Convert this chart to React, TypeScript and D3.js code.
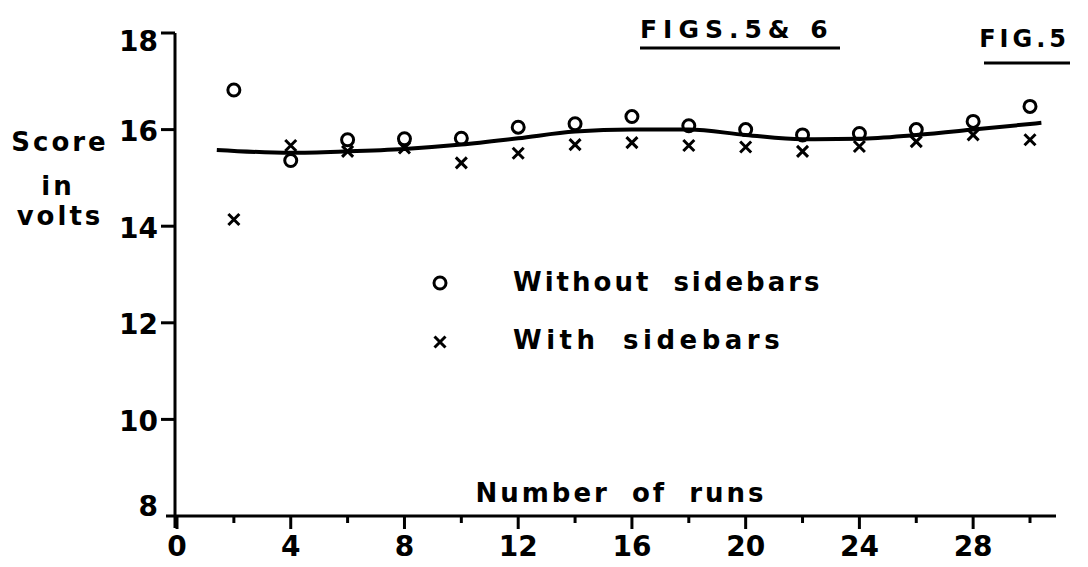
import React, { useEffect, useRef } from 'react';
import * as d3 from 'd3';

// runs at which scores were taken
const runs = [2, 4, 6, 8, 10, 12, 14, 16, 18, 20, 22, 24, 26, 28, 30];
const withoutSidebars = [16.82, 15.36, 15.79, 15.81, 15.82, 16.05, 16.12, 16.27, 16.08, 16.0, 15.89, 15.92, 16.0, 16.17, 16.48];
const withSidebars = [14.14, 15.67, 15.55, 15.62, 15.31, 15.51, 15.69, 15.73, 15.67, 15.64, 15.55, 15.65, 15.75, 15.89, 15.79];

// hand-fitted smooth curve through both series
const curveRuns = [1.4, 4, 6, 8, 10, 12, 14, 16, 18, 20, 22, 24, 26, 28, 30.4];
const curveScore = [15.58, 15.52, 15.55, 15.6, 15.69, 15.82, 15.96, 16.0, 16.0, 15.89, 15.8, 15.81, 15.89, 16.0, 16.14];

const xMajor = [0, 4, 8, 12, 16, 20, 24, 28];
const xMinor = [2, 6, 10, 14, 18, 22, 26, 30];
const yTicks = [8, 10, 12, 14, 16, 18];

export default function App() {
  const ref = useRef<SVGSVGElement>(null);

  useEffect(() => {
    const svg = d3.select(ref.current);
    svg.selectAll('*').remove();

    const x = d3.scaleLinear().domain([0, 30]).range([177, 1030]);
    const y = d3.scaleLinear().domain([8, 18]).range([516, 33]);
    const font = "'DejaVu Sans', sans-serif";
    const ink = '#000';

    const g = svg.append('g');

    // axes
    g.append('line')
      .attr('x1', x(0) - 2).attr('x2', x(0) - 2)
      .attr('y1', y(18)).attr('y2', y(8) + 12)
      .attr('stroke', ink).attr('stroke-width', 3);
    g.append('line')
      .attr('x1', x(0) - 11).attr('x2', 1056)
      .attr('y1', y(8)).attr('y2', y(8))
      .attr('stroke', ink).attr('stroke-width', 3);

    g.selectAll('.ytick')
      .data(yTicks.filter(d => d !== 8))
      .enter().append('line')
      .attr('x1', x(0) - 16).attr('x2', x(0) - 2)
      .attr('y1', d => y(d)).attr('y2', d => y(d))
      .attr('stroke', ink).attr('stroke-width', 3);

    g.selectAll('.xmajor')
      .data(xMajor)
      .enter().append('line')
      .attr('x1', d => x(d)).attr('x2', d => x(d))
      .attr('y1', y(8)).attr('y2', y(8) + 13)
      .attr('stroke', ink).attr('stroke-width', 3);

    g.selectAll('.xminor')
      .data(xMinor)
      .enter().append('line')
      .attr('x1', d => x(d)).attr('x2', d => x(d))
      .attr('y1', y(8)).attr('y2', y(8) + 7)
      .attr('stroke', ink).attr('stroke-width', 3);

    g.selectAll('.ylab')
      .data(yTicks)
      .enter().append('text')
      .attr('x', 158).attr('y', d => y(d) + (d === 8 ? -10 : d === 18 ? 8 : 2))
      .attr('text-anchor', 'end').attr('dominant-baseline', 'central')
      .attr('font-family', font).attr('font-size', 28).attr('font-weight', 'bold')
      .text(d => d);

    g.selectAll('.xlab')
      .data(xMajor)
      .enter().append('text')
      .attr('x', d => x(d)).attr('y', 546)
      .attr('text-anchor', 'middle').attr('dominant-baseline', 'central')
      .attr('font-family', font).attr('font-size', 28).attr('font-weight', 'bold')
      .text(d => d);

    const label = (t: string, px: number, py: number, anchor: string, size: number, spacing: number) =>
      g.append('text')
        .attr('x', px).attr('y', py)
        .attr('text-anchor', anchor).attr('dominant-baseline', 'central')
        .attr('font-family', font).attr('font-size', size).attr('font-weight', 'bold')
        .attr('letter-spacing', spacing).attr('word-spacing', 10)
        .text(t);

    label('Score', 60, 142, 'middle', 26, 3);
    label('in', 58, 186, 'middle', 26, 3);
    label('volts', 60, 216, 'middle', 26, 3);
    label('Number of runs', 621, 493, 'middle', 26, 3);
    label('Without sidebars', 513, 282, 'start', 26, 3);
    label('With sidebars', 513, 340, 'start', 26, 4.5);

    // titles
    g.append('text')
      .attr('x', 640).attr('y', 38)
      .attr('font-family', font).attr('font-size', 25).attr('font-weight', 'bold')
      .attr('letter-spacing', 6)
      .text('FIGS.5& 6');
    g.append('line')
      .attr('x1', 640).attr('x2', 840).attr('y1', 48).attr('y2', 48)
      .attr('stroke', ink).attr('stroke-width', 3);
    g.append('text')
      .attr('x', 1070).attr('y', 47).attr('text-anchor', 'end')
      .attr('font-family', font).attr('font-size', 24).attr('font-weight', 'bold')
      .attr('letter-spacing', 4)
      .text('FIG.5');
    g.append('line')
      .attr('x1', 984).attr('x2', 1070).attr('y1', 63).attr('y2', 63)
      .attr('stroke', ink).attr('stroke-width', 3);

    // fitted curve
    const line = d3.line<number>()
      .x((d, i) => x(curveRuns[i]))
      .y(d => y(d))
      .curve(d3.curveMonotoneX);
    g.append('path')
      .datum(curveScore)
      .attr('d', line)
      .attr('fill', 'none').attr('stroke', ink).attr('stroke-width', 4);

    // markers
    const cross = (sel: any, cx: (d: any, i: number) => number, cy: (d: any, i: number) => number, s: number) => {
      sel.append('path')
        .attr('d', (d: any, i: number) => {
          const a = cx(d, i), b = cy(d, i);
          return `M${a - s},${b - s}L${a + s},${b + s}M${a - s},${b + s}L${a + s},${b - s}`;
        })
        .attr('stroke', ink).attr('stroke-width', 3).attr('fill', 'none');
    };

    g.selectAll('.circ')
      .data(withoutSidebars)
      .enter().append('circle')
      .attr('cx', (d, i) => x(runs[i]))
      .attr('cy', d => y(d))
      .attr('r', 6)
      .attr('fill', 'none').attr('stroke', ink).attr('stroke-width', 3);

    const crosses = g.selectAll('.cross').data(withSidebars).enter().append('g');
    cross(crosses, (d, i) => x(runs[i]), d => y(d), 5.5);

    // legend markers
    g.append('circle')
      .attr('cx', 440).attr('cy', 283).attr('r', 6)
      .attr('fill', 'none').attr('stroke', ink).attr('stroke-width', 3);
    cross(g.append('g').datum(0), () => 440, () => 342, 5.5);
  }, []);

  return (
    <svg ref={ref} width={1088} height={567}
      style={{ position: 'absolute', left: 0, top: 0, background: '#fff' }} />
  );
}
